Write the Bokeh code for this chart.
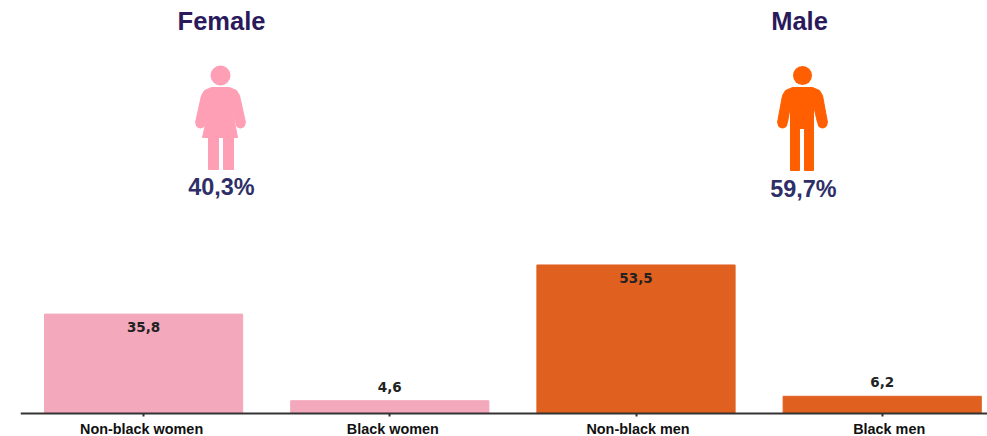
from bokeh.embed import file_html
from bokeh.resources import INLINE
from bokeh.plotting import figure
from bokeh.models import ColumnDataSource, FixedTicker, Label, Range1d
from bokeh.core.properties import value

categories = ["Non-black women", "Black women", "Non-black men", "Black men"]
values = [35.8, 4.6, 53.5, 6.2]
bar_colors = ["#f3a9bb", "#f3a9bb", "#e06020", "#e06020"]
share_labels = ["40,3%", "59,7%"]
group_labels = ["Female", "Male"]

WIDTH, HEIGHT = 987, 436
LEFT, BASE = 20, 413
SLOT = 246.2
PX_PER_UNIT = 2.776

x_start = -0.5
x_end = x_start + (WIDTH - LEFT) / SLOT
y_end = BASE / PX_PER_UNIT
y_start = -(HEIGHT - BASE) / PX_PER_UNIT

p = figure(width=WIDTH, height=HEIGHT, output_backend="svg", toolbar_location=None,
           x_range=Range1d(x_start, x_end), y_range=Range1d(y_start, y_end),
           min_border_left=LEFT, min_border_right=0, min_border_top=0,
           min_border_bottom=0)
p.outline_line_color = None
p.grid.visible = False
p.yaxis.visible = False
p.background_fill_color = "white"
p.border_fill_color = "white"


def dx(px):
    return x_start + (px - LEFT) / SLOT


def dy(py):
    return (BASE - py) / PX_PER_UNIT


# Bars and their value labels
xs = list(range(len(values)))
source = ColumnDataSource(dict(x=xs, top=values, color=bar_colors))
p.vbar(x="x", top="top", width=0.805, bottom=0, color="color", source=source)

tall = ColumnDataSource(dict(
    x=[x for x, v in zip(xs, values) if v > 20],
    y=[v for v in values if v > 20],
    label=[f"{v:.1f}".replace(".", ",") for v in values if v > 20],
))
short = ColumnDataSource(dict(
    x=[x for x, v in zip(xs, values) if v <= 20],
    y=[v for v in values if v <= 20],
    label=[f"{v:.1f}".replace(".", ",") for v in values if v <= 20],
))
for src, offset, baseline in ((tall, 8, "top"), (short, -9, "bottom")):
    p.text(x="x", y="y", text="label", source=src, text_align="center",
           text_baseline=baseline, y_offset=offset, text_color="#222222",
           text_font=value("DejaVu Sans"), text_font_style="bold", text_font_size="13.5px")

# Category axis, pinned to zero so the frame can run to the page edge
axis = p.xaxis[0]
axis.fixed_location = 0
axis.ticker = FixedTicker(ticks=xs)
axis.major_label_overrides = {i: "" for i in xs}
axis.axis_line_color = "#333333"
axis.axis_line_width = 2
axis.major_tick_line_color = "#333333"
axis.major_tick_line_width = 2
axis.major_tick_in = 0
axis.major_tick_out = 3
axis.minor_tick_line_color = None

# Category names sit slightly off their ticks, so they are placed individually
for i, (name, shift) in enumerate(zip(categories, (-2, 3, 2, 7))):
    p.add_layout(Label(x=i, y=dy(428.5), x_offset=shift, text=name, text_align="center",
                       text_baseline="middle", text_font="Liberation Sans",
                       text_font_style="bold", text_font_size="14.4px",
                       text_color="#111111"))

# Group headings and shares
for text, cx, cy, size, color in (
    (group_labels[0], 221, 20, "25.5px", "#2a1a5c"),
    (group_labels[1], 799, 20, "25.5px", "#2a1a5c"),
    (share_labels[0], 221, 186, "23.4px", "#2f2f68"),
    (share_labels[1], 803, 188, "23.4px", "#2f2f68"),
):
    p.add_layout(Label(x=dx(cx), y=dy(cy), text=text, text_align="center",
                       text_baseline="middle", text_font="Liberation Sans",
                       text_font_style="bold", text_font_size=size, text_color=color))


def person(outline, head, radius, hands, hand_radius, color):
    p.patch([dx(a) for a, _ in outline], [dy(b) for _, b in outline],
            color=color, line_color=color, line_width=1)
    p.circle(x=[dx(head[0])], y=[dy(head[1])], radius=radius / SLOT,
             color=color, line_color=None)
    p.scatter(x=[dx(a) for a, _ in hands], y=[dy(b) for _, b in hands],
              size=hand_radius * 2, color=color, line_color=None)


# Female pictogram
person([(211, 87), (229, 87), (236, 90), (239, 95), (245, 122), (235, 122), (231, 106),
        (237, 137), (233, 137), (233, 169), (223, 169), (223, 137),
        (218, 137), (218, 169), (208, 169), (208, 137), (202, 137), (209, 106),
        (205, 122), (195, 122), (201, 95), (204, 90)],
       (220, 75), 10, [(200, 123), (240, 123)], 5, "#ff9fb5")

# Male pictogram
person([(792, 87), (812, 87), (819, 90), (822, 95), (827, 122), (817, 122),
        (813, 105), (813, 170), (804, 170), (804, 128), (799, 128), (799, 170),
        (790, 170), (790, 105), (787, 122), (777, 122), (782, 95), (785, 90)],
       (802, 75), 9.5, [(782, 123), (822, 123)], 5, "#ff5f00")

open("out.html", "w").write(file_html(p, INLINE))
